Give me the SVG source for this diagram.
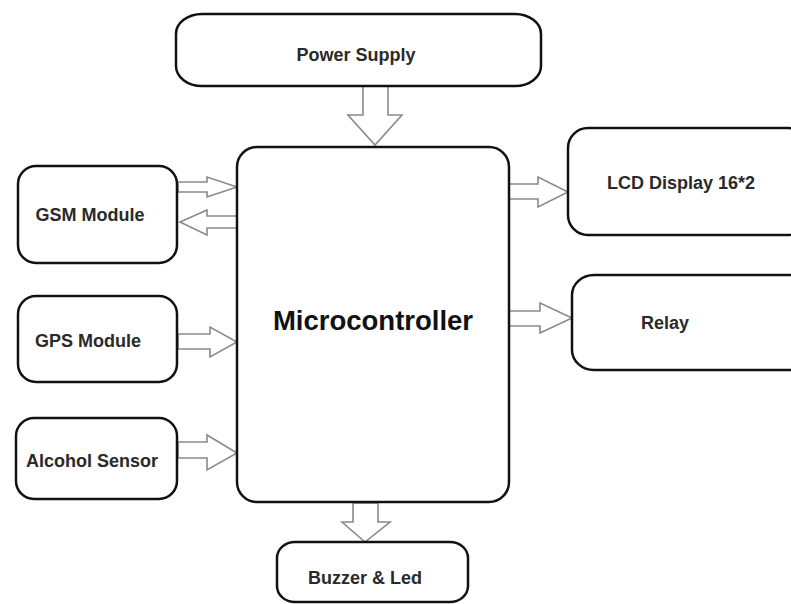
<svg xmlns="http://www.w3.org/2000/svg" width="791" height="604" viewBox="0 0 791 604">
<style>
.box{fill:#fff;stroke:#111;stroke-width:2.5}
.lbl{font-family:"Liberation Sans",Arial,sans-serif;font-weight:bold;font-size:18px;fill:#2a2a2a;text-anchor:middle}
.big{font-size:27.5px;fill:#111}
.arr{fill:#fff;stroke:#8a8a8a;stroke-width:1.6;stroke-linejoin:miter}
</style>
<rect width="791" height="604" fill="#fff"/>
<g id="connectors">
<polygon class="arr" points="363,86 388,86 388,115 402,115 375,145 348,115 363,115"/>
<polygon class="arr" points="178,182 207,182 207,177 237,187 207,197 207,192 178,192"/>
<polygon class="arr" points="237,216 207,216 207,210 180,222 207,235 207,228 237,228"/>
<polygon class="arr" points="178,334 210,334 210,327 237,342 210,357 210,349 178,349"/>
<polygon class="arr" points="178,442 207,442 207,435 237,453 207,470 207,458 178,458"/>
<polygon class="arr" points="509,184 538,184 538,177 568,192 538,207 538,199 509,199"/>
<polygon class="arr" points="509,311 540,311 540,303 572,318 540,333 540,326 509,326"/>
<polygon class="arr" points="353,503 378,503 378,522 390,522 365,542 342,522 353,522"/>
</g>
<g id="power"><rect class="box" x="176" y="14" width="365" height="72" rx="26" ry="20"/><text class="lbl" x="356" y="61">Power Supply</text></g>
<g id="micro"><rect class="box" x="237" y="147" width="272" height="355" rx="20" ry="20"/><text class="lbl big" x="373" y="330">Microcontroller</text></g>
<g id="gsm"><rect class="box" x="18" y="166" width="159" height="97" rx="18" ry="18"/><text class="lbl" x="90" y="221">GSM Module</text></g>
<g id="gps"><rect class="box" x="18" y="296" width="159" height="86" rx="18" ry="18"/><text class="lbl" x="88" y="347">GPS Module</text></g>
<g id="alcohol"><rect class="box" x="16" y="418" width="161" height="81" rx="18" ry="18"/><text class="lbl" x="92" y="467">Alcohol Sensor</text></g>
<g id="lcd"><rect class="box" x="568" y="128" width="240" height="107" rx="20" ry="20"/><text class="lbl" x="681" y="189">LCD Display 16*2</text></g>
<g id="relay"><rect class="box" x="572" y="275" width="240" height="95" rx="22" ry="20"/><text class="lbl" x="665" y="329">Relay</text></g>
<g id="buzzer"><rect class="box" x="277" y="542" width="191" height="60" rx="18" ry="16"/><text class="lbl" x="365" y="584">Buzzer &amp; Led</text></g>
</svg>
